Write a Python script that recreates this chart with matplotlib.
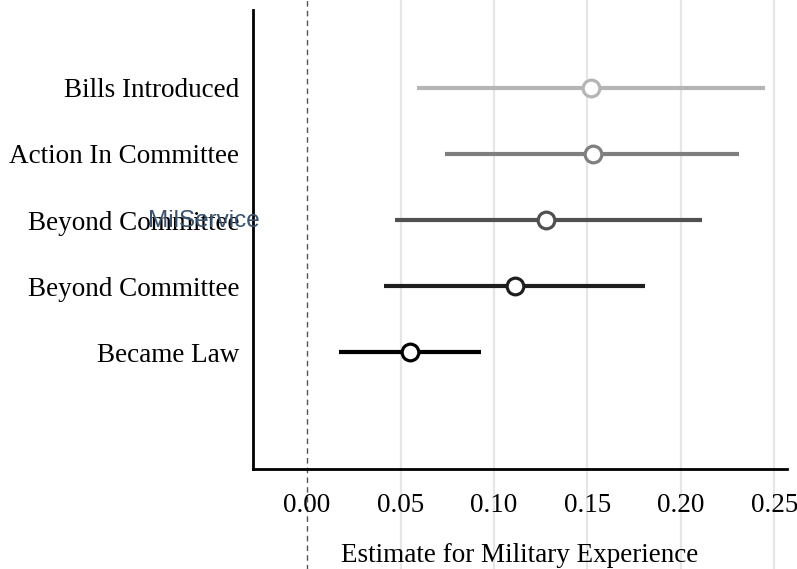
import matplotlib.pyplot as plt

# ── data ───────────────────────────────────────────────────────────────────────
labels    = ["Bills Introduced", "Action In Committee", "Beyond Committee",
             "Beyond Committee", "Became Law"]
estimates = [0.152, 0.153, 0.128, 0.111, 0.055]
ci_low    = [0.059, 0.074, 0.047, 0.041, 0.017]
ci_high   = [0.245, 0.231, 0.211, 0.181, 0.093]
colors    = ["#b5b5b5", "#7f7f7f", "#505050", "#1e1e1e", "#000000"]
xticks    = [0.00, 0.05, 0.10, 0.15, 0.20, 0.25]

plt.rcParams["font.family"] = ["Liberation Serif", "DejaVu Serif"]

fig = plt.figure(figsize=(7.97, 5.69), dpi=100)
ax = fig.add_axes([253 / 797, 100 / 569, 534 / 797, 459 / 569])

n = len(labels)
ypos = [n - i for i in range(n)]

# grid + zero line run through the whole figure height
for t in xticks[1:]:
    ax.axvline(t, ymin=-0.25, ymax=1.05, color="#e6e6e6", lw=1.6,
               zorder=0, clip_on=False)
ax.axvline(0, ymin=-0.25, ymax=1.05, color="#555555", lw=1.0, ls=(0, (4, 3)),
           zorder=1, clip_on=False)

for y, est, lo, hi, c in zip(ypos, estimates, ci_low, ci_high, colors):
    ax.plot([lo, hi], [y, y], color=c, lw=3, solid_capstyle="butt", zorder=2)
    ax.plot(est, y, "o", ms=12, mfc="white", mec=c, mew=2.3, zorder=3)

ax.set_xlim(-0.0289, 0.2567)
ax.set_ylim(-0.77, 6.18)
ax.set_yticks(ypos)
ax.set_yticklabels(labels, fontsize=19.5)
ax.set_xticks(xticks)
ax.set_xticklabels([f"{t:.2f}" for t in xticks], fontsize=19.5)
ax.tick_params(axis="x", length=0, pad=17)
ax.tick_params(axis="y", length=0, pad=10)
ax.set_xlabel("Estimate for Military Experience", fontsize=19.5, labelpad=18)

for s in ["top", "right"]:
    ax.spines[s].set_visible(False)
for s in ["left", "bottom"]:
    ax.spines[s].set_linewidth(2)

fig.text(148 / 797, 1 - 221 / 569, "MilService", fontsize=17.5,
         family="Liberation Sans", color="#3a5470", va="center", ha="left")

fig.savefig("out.png", dpi=100)
